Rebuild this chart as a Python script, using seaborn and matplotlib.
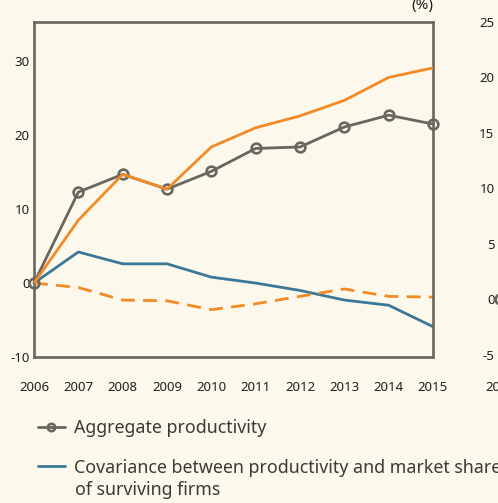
import numpy as np
import pandas as pd
import seaborn as sns
import matplotlib.pyplot as plt

years = [2006, 2007, 2008, 2009, 2010, 2011, 2012, 2013, 2014, 2015]
aggregate = [0, 12.3, 14.7, 12.7, 15.1, 18.2, 18.4, 21.1, 22.7, 21.5]
orange_solid = [0, 8.5, 14.7, 12.7, 18.4, 21.0, 22.6, 24.7, 27.8, 29.1]
covariance = [0, 4.2, 2.6, 2.6, 0.8, 0.0, -1.0, -2.3, -3.0, -5.9]
orange_dashed = [0, -0.6, -2.3, -2.4, -3.6, -2.8, -1.8, -0.8, -1.8, -1.9]

left_yticks = [-10, 0, 10, 20, 30]
right_yticks = [-5, 0, 5, 10, 15, 20, 25]
right_years = [2006]
right_first = [0]

bg = '#fdf8ec'
gray = '#68665e'
orange = '#f28a26'
blue = '#3b7898'
txt = '#231f20'
lw = 2.0

sns.set_theme(style='white', rc={'figure.facecolor': bg, 'axes.facecolor': bg,
                                 'savefig.facecolor': bg})
plt.rcParams['font.family'] = ['Noto Sans', 'DejaVu Sans']

fig = plt.figure(figsize=(4.98, 5.03), dpi=100)
ax = fig.add_axes([34 / 498, 1 - 357 / 503, 399 / 498, 335 / 503])

sns.lineplot(x=years, y=aggregate, ax=ax, color=gray, linewidth=lw, marker='o',
             markersize=7, markerfacecolor='none', markeredgecolor=gray,
             markeredgewidth=1.9, clip_on=False, label='Aggregate productivity', zorder=3)
sns.lineplot(x=years, y=orange_solid, ax=ax, color=orange, linewidth=lw, zorder=4)
sns.lineplot(x=years, y=covariance, ax=ax, color=blue, linewidth=lw, zorder=2,
             label='Covariance between productivity and market share')
sns.lineplot(x=years, y=orange_dashed, ax=ax, color=orange, linewidth=lw, zorder=2)
ax.lines[-1].set_dashes([5, 3])

ax.set_xlim(2006, 2015)
ax.set_ylim(-10, 35.3)
ax.set_xticks(years)
ax.set_yticks(left_yticks)
ax.set_yticklabels([str(v) for v in left_yticks])
ax.tick_params(axis='y', direction='in', length=6, width=1.8, color=gray,
               pad=3, labelsize=9.5, labelcolor=txt)
ax.tick_params(axis='x', length=0, pad=17, labelsize=9.5, labelcolor=txt)
for s in ax.spines.values():
    s.set_visible(True)
    s.set_color(gray)
    s.set_linewidth(1.9)
ax.set_xlabel('')
ax.set_ylabel('')
handles, labels = ax.get_legend_handles_labels()
ax.get_legend().remove()

fig.text(433 / 498, 1 - 6 / 503, '(%)', ha='right', va='center', fontsize=11, color=txt)

# second panel, mostly outside the picture
ax2 = fig.add_axes([500 / 498, 1 - 357 / 503, 399 / 498, 335 / 503])
sns.lineplot(x=right_years, y=right_first, ax=ax2, color=gray, marker='o', markersize=7,
             markerfacecolor='none', markeredgecolor=gray, markeredgewidth=1.9,
             clip_on=False)
ax2.set_xlim(2006, 2015)
ax2.set_ylim(-5.2, 25)
ax2.set_xticks(years)
ax2.set_yticks(right_yticks)
ax2.set_yticklabels([str(v) for v in right_yticks])
ax2.tick_params(axis='y', direction='in', length=6, width=1.8, color=gray,
                pad=4, labelsize=9.5, labelcolor=txt)
ax2.tick_params(axis='x', length=0, pad=17, labelsize=9.5, labelcolor=txt)

fig.legend(handles, labels, loc='upper left', bbox_to_anchor=(38 / 498, 1 - 419 / 503),
           frameon=False, fontsize=12.8, handlelength=1.5, handletextpad=0.55,
           labelspacing=1.22, borderpad=0, borderaxespad=0, labelcolor='#3a3a3a',
           markerscale=0.75)
fig.text(75 / 498, 1 - 490 / 503, 'of surviving firms', ha='left', va='center',
         fontsize=12.8, color='#3a3a3a')

fig.savefig('out.png', dpi=100)
